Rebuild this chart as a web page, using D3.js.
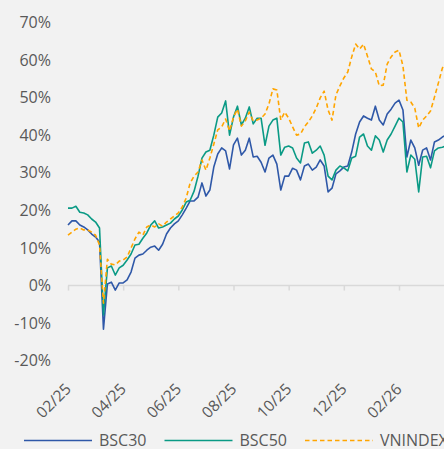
<!DOCTYPE html>
<html>
<head>
<meta charset="utf-8">
<script src="https://cdn.jsdelivr.net/npm/d3@7/dist/d3.min.js"></script>
<style>
  html, body { margin: 0; padding: 0; background: #f2f2f2; }
  svg { display: block; font-family: 'Open Sans', sans-serif; }
</style>
</head>
<body>
<svg id="chart" width="444" height="449"></svg>
<script>
// x labels, one every 14 samples (samples are ~3 trading days apart)
const tickLabels = ['02/25', '04/25', '06/25', '08/25', '10/25', '12/25', '02/26'];
const labelStep = 14;
const yTicks = [-20, -10, 0, 10, 20, 30, 40, 50, 60, 70];

// cumulative return, %
const bsc30 = [
  16.1, 17.2, 17.2, 16.1, 15.6, 14.8, 13.7, 12.9, 11.6, -11.6,
  0.4, 0.9, -1.2, 0.7, 0.7, 1.5, 3.6, 7.3, 8.1, 8.4,
  9.4, 10.2, 10.5, 9.4, 11.0, 13.7, 15.3, 16.4, 17.2, 18.8,
  20.6, 22.5, 22.5, 23.5, 27.3, 23.8, 25.4, 31.5, 35.0, 36.6,
  35.8, 31.0, 37.4, 39.2, 34.7, 36.0, 39.2, 34.2, 34.4, 32.8,
  30.2, 33.9, 34.7, 32.3, 25.4, 29.1, 29.1, 31.2, 30.7, 28.1,
  31.8, 32.3, 30.7, 31.5, 33.4, 31.8, 24.9, 25.9, 29.7, 30.5,
  31.5, 31.8, 35.5, 40.3, 43.5, 45.1, 44.5, 44.0, 47.7, 44.0,
  42.7, 45.6, 46.9, 48.5, 49.3, 46.7, 34.2, 38.7, 36.6, 32.0,
  36.0, 36.6, 33.4, 38.2, 38.7, 39.5, 40.0,
];
const bsc50 = [
  20.6, 20.6, 21.1, 19.5, 19.3, 18.8, 17.7, 16.9, 15.3, -7.8,
  4.7, 5.2, 2.8, 4.7, 5.4, 6.8, 8.4, 10.8, 11.0, 12.6,
  14.0, 16.1, 17.2, 15.3, 15.6, 16.1, 16.6, 17.7, 18.5, 20.1,
  22.2, 22.7, 25.1, 29.1, 33.9, 35.5, 36.0, 40.0, 44.8, 45.9,
  49.1, 40.0, 44.8, 47.7, 42.7, 44.5, 47.5, 43.0, 44.5, 44.5,
  37.3, 42.4, 44.0, 44.5, 34.7, 36.8, 37.1, 36.6, 33.9, 32.6,
  37.9, 38.2, 35.2, 36.0, 37.1, 34.7, 29.1, 28.1, 30.7, 31.8,
  31.3, 30.5, 33.9, 34.4, 39.5, 40.3, 37.1, 36.0, 39.8, 38.7,
  35.5, 38.7, 40.3, 42.4, 44.5, 43.5, 30.2, 34.7, 33.6, 24.9,
  34.2, 34.4, 31.3, 35.8, 36.6, 36.8, 37.1,
];
const vnindex = [
  13.4, 14.2, 15.0, 15.3, 14.8, 14.8, 14.2, 13.4, 10.8, -4.7,
  7.0, 5.7, 5.5, 6.5, 6.8, 7.6, 10.0, 12.4, 14.2, 13.4,
  15.6, 16.1, 15.6, 16.4, 15.8, 16.9, 17.7, 18.5, 19.3, 20.9,
  23.3, 27.3, 29.1, 30.2, 33.4, 30.7, 33.9, 37.6, 41.4, 42.2,
  44.3, 41.1, 44.8, 46.9, 42.4, 43.8, 46.1, 43.8, 44.0, 44.5,
  45.6, 48.3, 52.3, 52.0, 44.0, 46.1, 44.5, 42.2, 40.0, 40.3,
  42.2, 43.5, 45.1, 47.2, 49.9, 51.7, 46.7, 44.0, 50.7, 53.1,
  55.2, 56.8, 60.8, 64.2, 62.9, 64.2, 61.0, 57.6, 56.8, 53.1,
  53.3, 58.9, 60.8, 62.1, 62.6, 58.4, 49.3, 48.8, 47.2, 41.9,
  44.0, 45.1, 46.4, 50.1, 53.9, 57.8, 59.4,
];

const series = [
  { name: 'BSC30', values: bsc30, color: '#2f58a8', dash: null },
  { name: 'BSC50', values: bsc50, color: '#0a9a85', dash: null },
  { name: 'VNINDEX', values: vnindex, color: '#ffa500', dash: '4.5,3' },
];

const width = 444;
const textColor = '#595959';
const svg = d3.select('#chart');

const x = d3.scaleLinear()
  .domain([0, labelStep * (tickLabels.length - 1)])
  .range([68, 399]);
const y = d3.scaleLinear()
  .domain([-20, 70])
  .range([360.8, 22.3]);

// y axis labels only
const yAxis = svg.append('g')
  .attr('transform', 'translate(51, 0)')
  .call(d3.axisLeft(y)
    .tickValues(yTicks)
    .tickSize(0)
    .tickPadding(0)
    .tickFormat(d => `${d}%`));
yAxis.select('.domain').remove();
yAxis.selectAll('text')
  .attr('fill', textColor)
  .attr('font-size', 16)
  .attr('font-family', "'Open Sans', sans-serif");

// horizontal axis sits on 0%
svg.append('line')
  .attr('x1', x(0))
  .attr('x2', width)
  .attr('y1', y(0))
  .attr('y2', y(0))
  .attr('stroke', '#d9d9d9')
  .attr('stroke-width', 1.5);

const tickValues = tickLabels.map((d, i) => i * labelStep);
const xAxis = svg.append('g')
  .attr('transform', `translate(0, ${y(0)})`)
  .call(d3.axisBottom(x)
    .tickValues(tickValues)
    .tickSize(5)
    .tickFormat(''));
xAxis.select('.domain').remove();
xAxis.selectAll('line')
  .attr('stroke', '#d9d9d9')
  .attr('stroke-width', 1.5);

// rotated date labels; top-right corner of each label sits just
// right of its tick, so nudge by the measured box
const labelTop = 378;
svg.append('g')
  .selectAll('text')
  .data(tickValues)
  .join('text')
  .attr('text-anchor', 'end')
  .attr('fill', textColor)
  .attr('font-size', 15.5)
  .text((d, i) => tickLabels[i])
  .attr('transform', d => `translate(${x(d) + 4}, 389.5) rotate(-45)`)
  .each(function (d) {
    const box = this.getBoundingClientRect();
    const dx = (x(d) + 7.5) - box.right;
    const dy = labelTop - box.top;
    d3.select(this)
      .attr('transform', `translate(${x(d) + 4 + dx}, ${389.5 + dy}) rotate(-45)`);
  });

const line = d3.line()
  .x((d, i) => x(i))
  .y(d => y(d));

svg.append('g')
  .selectAll('path')
  .data(series)
  .join('path')
  .attr('d', d => line(d.values))
  .attr('fill', 'none')
  .attr('stroke', d => d.color)
  .attr('stroke-width', 1.6)
  .attr('stroke-linejoin', 'round')
  .attr('stroke-dasharray', d => d.dash);

// legend
const legend = svg.append('g')
  .attr('transform', 'translate(24, 440.5)');
const item = legend.selectAll('g')
  .data(series)
  .join('g')
  .attr('transform', (d, i) => `translate(${i * 140.5}, 0)`);
item.append('line')
  .attr('x1', 0)
  .attr('x2', 68)
  .attr('stroke', d => d.color)
  .attr('stroke-width', 1.6)
  .attr('stroke-dasharray', d => d.dash);
item.append('text')
  .attr('x', 75)
  .attr('dy', '0.34em')
  .attr('fill', textColor)
  .attr('font-size', 16)
  .text(d => d.name);
</script>
</body>
</html>
